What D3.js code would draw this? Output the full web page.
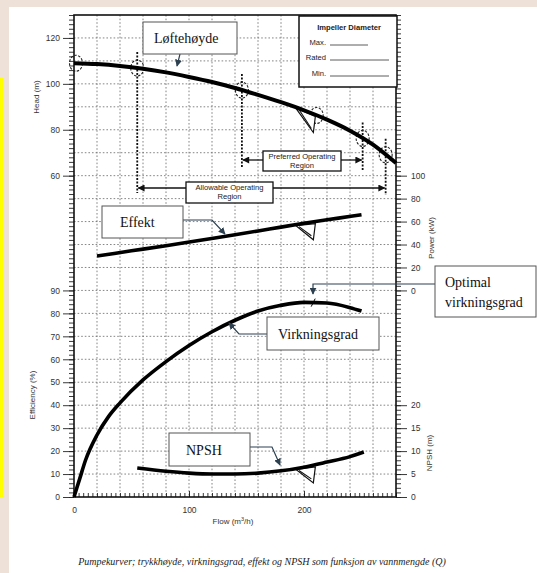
<!DOCTYPE html>
<html lang="no">
<head>
<meta charset="utf-8">
<title>Pumpekurver</title>
<style>
	body { margin: 0; background: #fff; }
	svg { display: block; }
	.tick text { fill: #333; font-family: "Liberation Sans", Arial, sans-serif; }
	.serif { font-family: "Liberation Serif", "Times New Roman", serif; }
	.sans { font-family: "Liberation Sans", Arial, sans-serif; }
</style>
</head>
<body>
<script src="https://cdn.jsdelivr.net/npm/d3@7"></script>
<script>

	// curves, [flow m3/h, value]
	const headCurve = [[0, 109], [20, 108.6], [40, 107.8], [60, 106.6], [80, 105], [100, 103], [120, 100.8],
		[140, 98.2], [160, 95.2], [180, 92], [200, 88.5], [220, 84.4], [240, 79.6], [260, 73.5], [280, 65.5]];
	const powerCurve = [[20, 30], [50, 34.5], [80, 39], [110, 43.8], [140, 48.5], [170, 53.5], [200, 58.5], [230, 63], [250, 66]];
	const effCurve = [[0, 0], [5, 8], [10, 16], [20, 27], [30, 35], [40, 41], [60, 51], [80, 59], [100, 66], [120, 72],
		[140, 77], [160, 81], [180, 83.5], [200, 84.8], [220, 84.5], [240, 82.5], [250, 81]];
	const npshCurve = [[55, 6.3], [80, 5.6], [100, 5.2], [120, 5.0], [140, 5.0], [160, 5.2], [180, 5.7], [200, 6.5],
		[220, 7.6], [240, 8.8], [252, 9.8]];

	// tick labels
	const flowTicks = [0, 100, 200];
	const headTicks = [60, 80, 100, 120];
	const effTicks = [0, 10, 20, 30, 40, 50, 60, 70, 80, 90];
	const powerTicks = [0, 20, 40, 60, 80, 100];
	const npshTicks = [0, 5, 10, 15, 20];

	// operating points (flow)
	const circleFlows = [0, 55, 146, 211, 251, 271];
	const allowable = [55, 271];
	const preferred = [146, 251];
	const bestFlow = 208;

	const W = 537, H = 573;
	const L = 74, R = 396, T = 15, B = 497;

	const svg = d3.select("body").append("svg")
		.attr("width", W)
		.attr("height", H);

	svg.append("rect").attr("width", W).attr("height", H).attr("fill", "#ffffff");
	svg.append("rect").attr("width", W).attr("height", 7).attr("fill", "#eee1d7");
	svg.append("rect").attr("width", 9).attr("height", H).attr("fill", "#eee1d7");
	svg.append("rect").attr("y", 78).attr("width", 3).attr("height", 419).attr("fill", "#ffff00");

	const defs = svg.append("defs");
	defs.append("marker")
		.attr("id", "ahBlue")
		.attr("viewBox", "0 0 10 10")
		.attr("refX", 9).attr("refY", 5)
		.attr("markerWidth", 7).attr("markerHeight", 7)
		.attr("markerUnits", "userSpaceOnUse")
		.attr("orient", "auto")
		.append("path").attr("d", "M0,0L10,5L0,10z").attr("fill", "#2c4050");
	defs.append("marker")
		.attr("id", "ahBlack")
		.attr("viewBox", "0 0 10 10")
		.attr("refX", 9).attr("refY", 5)
		.attr("markerWidth", 11).attr("markerHeight", 7)
		.attr("markerUnits", "userSpaceOnUse")
		.attr("orient", "auto")
		.append("path").attr("d", "M0,0L10,5L0,10z").attr("fill", "#111");

	const x = d3.scaleLinear().domain([0, 280]).range([L, R]);
	const yRow = d3.scaleLinear().domain([0, 21]).range([B, T]);
	const yHead = d3.scaleLinear().domain([-80, 130]).range([B, T]);
	const yEff = d3.scaleLinear().domain([0, 210]).range([B, T]);
	const yPow = d3.scaleLinear().domain([-180, 240]).range([B, T]);
	const yNpsh = d3.scaleLinear().domain([0, 105]).range([B, T]);

	// grid
	const grid = svg.append("g")
		.attr("stroke", "#666")
		.attr("stroke-width", 0.8)
		.attr("stroke-dasharray", "1.6,2");
	grid.selectAll(".h").data(d3.range(1, 21)).join("line")
		.attr("x1", L).attr("x2", R)
		.attr("y1", d => yRow(d)).attr("y2", d => yRow(d));
	grid.selectAll(".v").data(d3.range(20, 280, 20)).join("line")
		.attr("y1", T).attr("y2", B)
		.attr("x1", d => x(d)).attr("x2", d => x(d));

	// axes
	function clean(g) {
		g.select(".domain").remove();
		g.selectAll("line").attr("stroke", "#222").attr("stroke-width", 0.9);
	}
	const minorRows = d3.range(0, 211, 2);

	svg.append("g").attr("transform", `translate(${L},0)`)
		.call(d3.axisLeft(yEff).tickValues(minorRows).tickSize(5).tickFormat(""))
		.call(clean);
	svg.append("g").attr("transform", `translate(${L},0)`)
		.call(d3.axisLeft(yHead).tickValues(headTicks).tickSize(11).tickPadding(3))
		.call(clean)
		.selectAll("text").attr("font-size", 8.5);
	svg.append("g").attr("transform", `translate(${L},0)`)
		.call(d3.axisLeft(yEff).tickValues(effTicks).tickSize(11).tickPadding(3))
		.call(clean)
		.selectAll("text").attr("font-size", 8.5);

	svg.append("g").attr("transform", `translate(${R},0)`)
		.call(d3.axisRight(yEff).tickValues(minorRows).tickSize(5).tickFormat(""))
		.call(clean);
	svg.append("g").attr("transform", `translate(${R},0)`)
		.call(d3.axisRight(yPow).tickValues(powerTicks).tickSize(11).tickPadding(4))
		.call(clean)
		.selectAll("text").attr("font-size", 8.5);
	svg.append("g").attr("transform", `translate(${R},0)`)
		.call(d3.axisRight(yNpsh).tickValues(npshTicks).tickSize(11).tickPadding(4))
		.call(clean)
		.selectAll("text").attr("font-size", 8.5);

	svg.append("g").attr("transform", `translate(0,${B})`)
		.call(d3.axisBottom(x).tickValues(d3.range(0, 281, 4)).tickSize(-4).tickFormat(""))
		.call(clean);
	svg.append("g").attr("transform", `translate(0,${B})`)
		.call(d3.axisBottom(x).tickValues(flowTicks).tickSize(-6).tickPadding(10))
		.call(clean)
		.selectAll("text").attr("font-size", 8.5);

	// frame
	svg.append("rect")
		.attr("x", L).attr("y", T)
		.attr("width", R - L).attr("height", B - T)
		.attr("fill", "none").attr("stroke", "#111").attr("stroke-width", 1.6);

	// axis titles
	const titles = [
		{ t: "Head (m)", x: 37, y: 97 },
		{ t: "Efficiency (%)", x: 33, y: 395 },
		{ t: "Power (kW)", x: 432, y: 238 },
		{ t: "NPSH (m)", x: 430, y: 453 }
	];
	svg.selectAll(".atitle").data(titles).join("text")
		.attr("class", "sans")
		.attr("transform", d => `translate(${d.x},${d.y}) rotate(-90)`)
		.attr("text-anchor", "middle")
		.attr("dominant-baseline", "middle")
		.attr("font-size", 8)
		.attr("fill", "#333")
		.text(d => d.t);
	const ft = svg.append("text").attr("class", "sans")
		.attr("x", 233).attr("y", 524)
		.attr("text-anchor", "middle")
		.attr("font-size", 8)
		.attr("fill", "#333");
	ft.append("tspan").text("Flow (m");
	ft.append("tspan").attr("font-size", 5.5).attr("dy", -3).text("3");
	ft.append("tspan").attr("dy", 3).text("/h)");

	// operating region guides
	const headAt = d3.scaleLinear().domain(headCurve.map(d => d[0])).range(headCurve.map(d => d[1]));
	const dashed = svg.append("g")
		.attr("stroke", "#111")
		.attr("stroke-width", 1.8)
		.attr("stroke-dasharray", "2,1.5")
		.attr("fill", "none");
	const guides = [
		{ f: preferred[0], y2: 168 },
		{ f: preferred[1], y2: 170 },
		{ f: allowable[0], y2: 193 },
		{ f: allowable[1], y2: 195 }
	];
	dashed.selectAll("line").data(guides).join("line")
		.attr("x1", d => x(d.f)).attr("x2", d => x(d.f))
		.attr("y1", d => yHead(headAt(d.f)) - 16)
		.attr("y2", d => d.y2);

	svg.append("g")
		.attr("stroke", "#222").attr("stroke-width", 1.1).attr("stroke-dasharray", "2.5,1.5").attr("fill", "none")
		.selectAll("ellipse").data(circleFlows).join("ellipse")
		.attr("cx", d => x(d) + (d === 0 ? 2 : 0))
		.attr("cy", d => yHead(headAt(d)))
		.attr("rx", 6.5).attr("ry", 8);

	// region boxes
	const regionBoxes = [
		{ lines: ["Preferred Operating", "Region"], x0: 263, x1: 341, y0: 151, y1: 171, ay: 160, range: preferred },
		{ lines: ["Allowable Operating", "Region"], x0: 186, x1: 273, y0: 182, y1: 203, ay: 188, range: allowable }
	];
	regionBoxes.forEach(b => {
		svg.append("line")
			.attr("x1", b.x0).attr("x2", x(b.range[0]) + 1)
			.attr("y1", b.ay).attr("y2", b.ay)
			.attr("stroke", "#111").attr("stroke-width", 1.3)
			.attr("marker-end", "url(#ahBlack)");
		svg.append("line")
			.attr("x1", b.x1).attr("x2", x(b.range[1]) - 1)
			.attr("y1", b.ay).attr("y2", b.ay)
			.attr("stroke", "#111").attr("stroke-width", 1.3)
			.attr("marker-end", "url(#ahBlack)");
		svg.append("rect")
			.attr("x", b.x0).attr("y", b.y0)
			.attr("width", b.x1 - b.x0).attr("height", b.y1 - b.y0)
			.attr("fill", "#fff").attr("stroke", "#111").attr("stroke-width", 1.3);
		svg.append("text").attr("class", "sans")
			.attr("x", (b.x0 + b.x1) / 2).attr("y", b.y0 + 8)
			.attr("text-anchor", "middle").attr("font-size", 7.6).attr("fill", "#222")
			.selectAll("tspan").data(b.lines).join("tspan")
			.attr("x", (b.x0 + b.x1) / 2)
			.attr("dy", (d, i) => i ? 9 : 0)
			.text(d => d);
	});

	// impeller diameter box
	const imp = svg.append("g");
	imp.append("rect")
		.attr("x", 299).attr("y", 16).attr("width", 98).attr("height", 71)
		.attr("fill", "#fff").attr("stroke", "#111").attr("stroke-width", 1.5);
	imp.append("text").attr("class", "sans")
		.attr("x", 349).attr("y", 30)
		.attr("text-anchor", "middle").attr("font-size", 7.6).attr("font-weight", "bold").attr("fill", "#222")
		.text("Impeller Diameter");
	const impRows = [
		{ t: "Max.", y: 45, x2: 368 },
		{ t: "Rated", y: 60, x2: 389 },
		{ t: "Min.", y: 76, x2: 389 }
	];
	imp.selectAll(".row").data(impRows).join("text")
		.attr("class", "sans")
		.attr("x", 326).attr("y", d => d.y)
		.attr("text-anchor", "end").attr("font-size", 7.6).attr("fill", "#222")
		.text(d => d.t);
	imp.selectAll("line").data(impRows).join("line")
		.attr("x1", 330).attr("x2", d => d.x2)
		.attr("y1", d => d.y).attr("y2", d => d.y)
		.attr("stroke", "#333").attr("stroke-width", 0.8);

	// rated point wedges (hang under the curves)
	const interp = c => d3.scaleLinear().domain(c.map(d => d[0])).range(c.map(d => d[1]));
	const wedges = [
		{ f: interp(headCurve), y: yHead },
		{ f: interp(powerCurve), y: yPow },
		{ f: interp(npshCurve), y: yNpsh }
	];
	wedges.forEach(w => {
		const xa = x(bestFlow - 15), xb = x(bestFlow + 1);
		const ya = w.y(w.f(bestFlow - 15)) + 1, yb = w.y(w.f(bestFlow + 1)) + 2;
		svg.append("path")
			.attr("d", `M${xa},${ya}L${xb + 1},${yb}L${xb - 1},${yb + 16}Z`)
			.attr("fill", "#fff").attr("stroke", "#111").attr("stroke-width", 1.2)
			.attr("stroke-linejoin", "miter");
		svg.append("line")
			.attr("x1", xa + 3).attr("y1", ya + 1).attr("x2", xb - 3).attr("y2", yb + 12)
			.attr("stroke", "#111").attr("stroke-width", 1.1);
	});

	// curves
	const drawCurve = (data, y, w) => svg.append("path")
		.datum(data)
		.attr("fill", "none")
		.attr("stroke", "#000")
		.attr("stroke-width", w)
		.attr("stroke-linecap", "butt")
		.attr("d", d3.line().x(d => x(d[0])).y(d => y(d[1])).curve(d3.curveMonotoneX));
	drawCurve(headCurve, yHead, 4);
	drawCurve(powerCurve, yPow, 3.6);
	drawCurve(effCurve, yEff, 3.6);
	drawCurve(npshCurve, yNpsh, 3.6);

	// best efficiency tick
	const effAt = interp(effCurve);
	svg.append("line")
		.attr("x1", x(bestFlow) - 2).attr("y1", yEff(effAt(bestFlow)) + 4)
		.attr("x2", x(bestFlow) + 2).attr("y2", yEff(effAt(bestFlow)) - 4)
		.attr("stroke", "#000").attr("stroke-width", 1);

	// annotation boxes (Norwegian labels)
	const notes = [
		{ lines: ["Løftehøyde"], x0: 143, x1: 237, y0: 22, y1: 54, tx: 154, path: "M180,54L177,66" },
		{ lines: ["Effekt"], x0: 102, x1: 183, y0: 206, y1: 238, tx: 120, path: "M183,220L212,220L225,234" },
		{ lines: ["Virkningsgrad"], x0: 267, x1: 379, y0: 317, y1: 350, tx: 278, path: "M267,334L239,334L229,323" },
		{ lines: ["Optimal", "virkningsgrad"], x0: 435, x1: 536, y0: 266, y1: 317, tx: 445, path: "M435,284L313,284L313,294" },
		{ lines: ["NPSH"], x0: 169, x1: 250, y0: 433, y1: 466, tx: 186, path: "M250,447L272,447L280,465" }
	];
	notes.forEach(n => {
		svg.append("path")
			.attr("d", n.path)
			.attr("fill", "none")
			.attr("stroke", "#2c4050").attr("stroke-width", 1.2)
			.attr("marker-end", "url(#ahBlue)");
		svg.append("rect")
			.attr("x", n.x0).attr("y", n.y0)
			.attr("width", n.x1 - n.x0).attr("height", n.y1 - n.y0)
			.attr("fill", "#fff").attr("stroke", "#555").attr("stroke-width", 1);
		const cy = (n.y0 + n.y1) / 2;
		const first = cy - (n.lines.length - 1) * 10 + 5;
		svg.append("text").attr("class", "serif")
			.attr("font-size", 14).attr("fill", "#111")
			.selectAll("tspan").data(n.lines).join("tspan")
			.attr("x", n.tx)
			.attr("y", (d, i) => first + i * 20)
			.text(d => d);
	});

	// caption
	svg.append("text").attr("class", "serif")
		.attr("x", 262).attr("y", 565)
		.attr("text-anchor", "middle")
		.attr("font-size", 10).attr("font-style", "italic").attr("fill", "#222")
		.text("Pumpekurver; trykkhøyde, virkningsgrad, effekt og NPSH som funksjon av vannmengde (Q)");

</script>
</body>
</html>
